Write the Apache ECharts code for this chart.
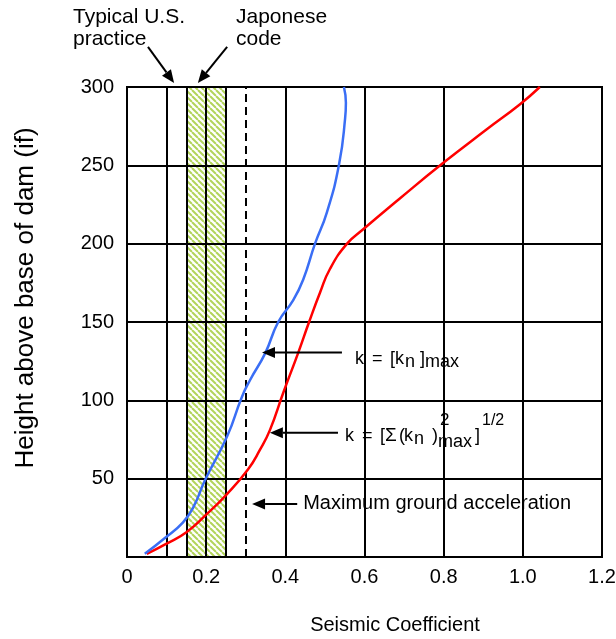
<!DOCTYPE html>
<html>
<head>
<meta charset="utf-8">
<script src="https://cdn.jsdelivr.net/npm/echarts@6/dist/echarts.min.js"></script>
<style>
  html, body { margin: 0; padding: 0; background: #fff; }
  #chart { width: 616px; height: 639px; }
</style>
</head>
<body>
<div id="chart"></div>
<script>
  // seismic coefficient k vs height above base (ft)
  const kMaxCurve = [
    [0.045, 2], [0.095, 12], [0.141, 22], [0.168, 32], [0.197, 49], [0.253, 77],
    [0.29, 102], [0.311, 113], [0.349, 130], [0.382, 150], [0.42, 164], [0.445, 177],
    [0.475, 200], [0.505, 220], [0.536, 251], [0.551, 280], [0.553, 290], [0.548, 300]
  ];
  const kSrssCurve = [
    [0.05, 2], [0.1, 8.5], [0.151, 16], [0.2, 27], [0.252, 40], [0.306, 56], [0.335, 68],
    [0.361, 81], [0.395, 105], [0.432, 130], [0.46, 150], [0.488, 169], [0.513, 184],
    [0.556, 200], [0.596, 209], [0.69, 229], [0.796, 251], [0.909, 273], [0.993, 289], [1.043, 300]
  ];
  const japanBand = [0.15, 0.25];
  const extraLines = [0.1, 0.15, 0.25];
  const groundAccel = 0.3;

  const FONT = '"Liberation Sans", Arial, sans-serif';

  function hatchPattern() {
    const s = 6;
    const c = document.createElement('canvas');
    c.width = s; c.height = s;
    const ctx = c.getContext('2d');
    ctx.fillStyle = '#ffffff';
    ctx.fillRect(0, 0, s, s);
    ctx.strokeStyle = '#b2d45a';
    ctx.lineWidth = 2;
    [-s, 0, s].forEach(function (x0) {
      ctx.beginPath();
      ctx.moveTo(x0, 0);
      ctx.lineTo(x0 + s, s);
      ctx.stroke();
    });
    return c;
  }

  const chart = echarts.init(document.getElementById('chart'));

  chart.setOption({
    animation: false,
    backgroundColor: '#fff',
    grid: {
      left: 127, right: 14, top: 87, bottom: 82, outerBoundsMode: 'none',
      show: true, borderColor: '#000', borderWidth: 2
    },
    xAxis: {
      type: 'value', min: 0, max: 1.2, interval: 0.2, z: 2,
      name: 'Seismic Coefficient', nameLocation: 'middle', nameGap: 58,
      nameTextStyle: { fontFamily: FONT, fontSize: 20, color: '#000', padding: [0, 0, 0, 61] },
      axisLine: { lineStyle: { color: '#000', width: 2 } },
      axisTick: { show: false },
      axisLabel: {
        fontFamily: FONT, fontSize: 20, color: '#000', margin: 10,
        formatter: function (v) { return v === 0 ? '0' : v.toFixed(1); }
      },
      splitLine: { show: true, lineStyle: { color: '#000', width: 2 } }
    },
    yAxis: {
      type: 'value', min: 0, max: 300, interval: 50, z: 2,
      name: 'Height above base of dam (if)', nameLocation: 'middle', nameRotate: 90, nameGap: 88,
      nameTextStyle: { fontFamily: FONT, fontSize: 26, color: '#000', padding: [0, 0, 0, 48] },
      axisLine: { show: true, lineStyle: { color: '#000', width: 2 } },
      axisTick: { show: false },
      axisLabel: {
        fontFamily: FONT, fontSize: 20, color: '#000', margin: 13,
        formatter: function (v) { return v === 0 ? '' : String(v); }
      },
      splitLine: { show: true, lineStyle: { color: '#000', width: 2 } }
    },
    series: [
      {
        type: 'line',
        name: 'k srss',
        data: kSrssCurve,
        smooth: 0.5,
        symbol: 'none',
        z: 4,
        lineStyle: { color: '#ff0000', width: 2.5 },
        markArea: {
          silent: true,
          z: 1,
          itemStyle: { color: { image: hatchPattern(), repeat: 'repeat' } },
          data: [[{ xAxis: japanBand[0], yAxis: 0 }, { xAxis: japanBand[1], yAxis: 300 }]]
        },
        markLine: {
          silent: true,
          z: 3,
          symbol: 'none',
          label: { show: false },
          data: extraLines.map(function (v) {
            return { xAxis: v, lineStyle: { color: '#000', width: 2, type: 'solid' } };
          }).concat([{ xAxis: groundAccel, lineStyle: { color: '#000', width: 2, type: [8, 5] } }])
        }
      },
      {
        type: 'line',
        name: 'k max',
        data: kMaxCurve,
        smooth: 0.5,
        symbol: 'none',
        z: 4,
        lineStyle: { color: '#3a6ef5', width: 2.5 }
      }
    ]
  });

  // annotations: arrows anchored in data space, labels next to the arrow tails
  function px(p) { return chart.convertToPixel({ gridIndex: 0 }, p); }

  const graphics = [];
  function arrow(from, to) {
    const a = px(from), b = px(to);
    const dx = b[0] - a[0], dy = b[1] - a[1];
    const len = Math.sqrt(dx * dx + dy * dy);
    const ux = dx / len, uy = dy / len;
    const hl = 13, hw = 5.5;
    const bx = b[0] - ux * hl, by = b[1] - uy * hl;
    graphics.push({
      type: 'line', z: 10, silent: true,
      shape: { x1: a[0], y1: a[1], x2: bx, y2: by },
      style: { stroke: '#000', lineWidth: 2 }
    });
    graphics.push({
      type: 'polygon', z: 10, silent: true,
      shape: { points: [[b[0], b[1]], [bx - uy * hw, by + ux * hw], [bx + uy * hw, by - ux * hw]] },
      style: { fill: '#000' }
    });
    return a;
  }
  function text(t, x, y, fs) {
    graphics.push({
      type: 'text', z: 10, silent: true,
      style: { text: t, x: x, y: y, font: fs + 'px ' + FONT, fill: '#000', align: 'left', verticalAlign: 'middle' }
    });
  }
  // pieces: [text, dx, dy, fontSize]
  function formula(x0, y0, pieces) {
    pieces.forEach(function (p) { text(p[0], x0 + p[1], y0 + p[2], p[3]); });
  }

  // k = [kn]max
  const t1 = arrow([0.543, 130.5], [0.341, 130.5]);
  formula(t1[0] + 13, t1[1] + 6, [
    ['k', 0, 0, 18], ['=', 17, 0, 18], ['[', 35, 0, 18], ['k', 40, 0, 18],
    ['n', 50, 3, 18], [']', 65, 0, 18], ['max', 70, 3, 18]
  ]);

  // k = [Σ(kn)²max]^1/2
  const t2 = arrow([0.533, 79.3], [0.361, 79.3]);
  formula(t2[0] + 7, t2[1] + 3, [
    ['k', 0, 0, 18], ['=', 17, 0, 18], ['[', 35, 0, 18], ['Σ', 40, 0, 19], ['(', 54, 0, 18],
    ['k', 59, 0, 18], ['n', 69, 3, 18], [')', 87, 0, 18], ['2', 95, -15, 17],
    ['max', 93, 6, 18], [']', 130, 0, 18], ['1/2', 137, -15, 16]
  ]);

  // maximum ground acceleration
  const t3 = arrow([0.43, 33.9], [0.316, 33.9]);
  text('Maximum ground acceleration', t3[0] + 6, t3[1], 20);

  // band labels above the plot
  arrow([0.053, 325.6], [0.119, 302.6]);
  arrow([0.253, 325.6], [0.179, 302.6]);
  graphics.push({
    type: 'text', silent: true, z: 10,
    style: { text: 'Typical U.S.\npractice', x: 73, y: 6, font: '21px ' + FONT, lineHeight: 22, fill: '#000' }
  });
  graphics.push({
    type: 'text', silent: true, z: 10,
    style: { text: 'Japonese\ncode', x: 236, y: 6, font: '21px ' + FONT, lineHeight: 22, fill: '#000' }
  });

  chart.setOption({ graphic: graphics });
</script>
</body>
</html>
